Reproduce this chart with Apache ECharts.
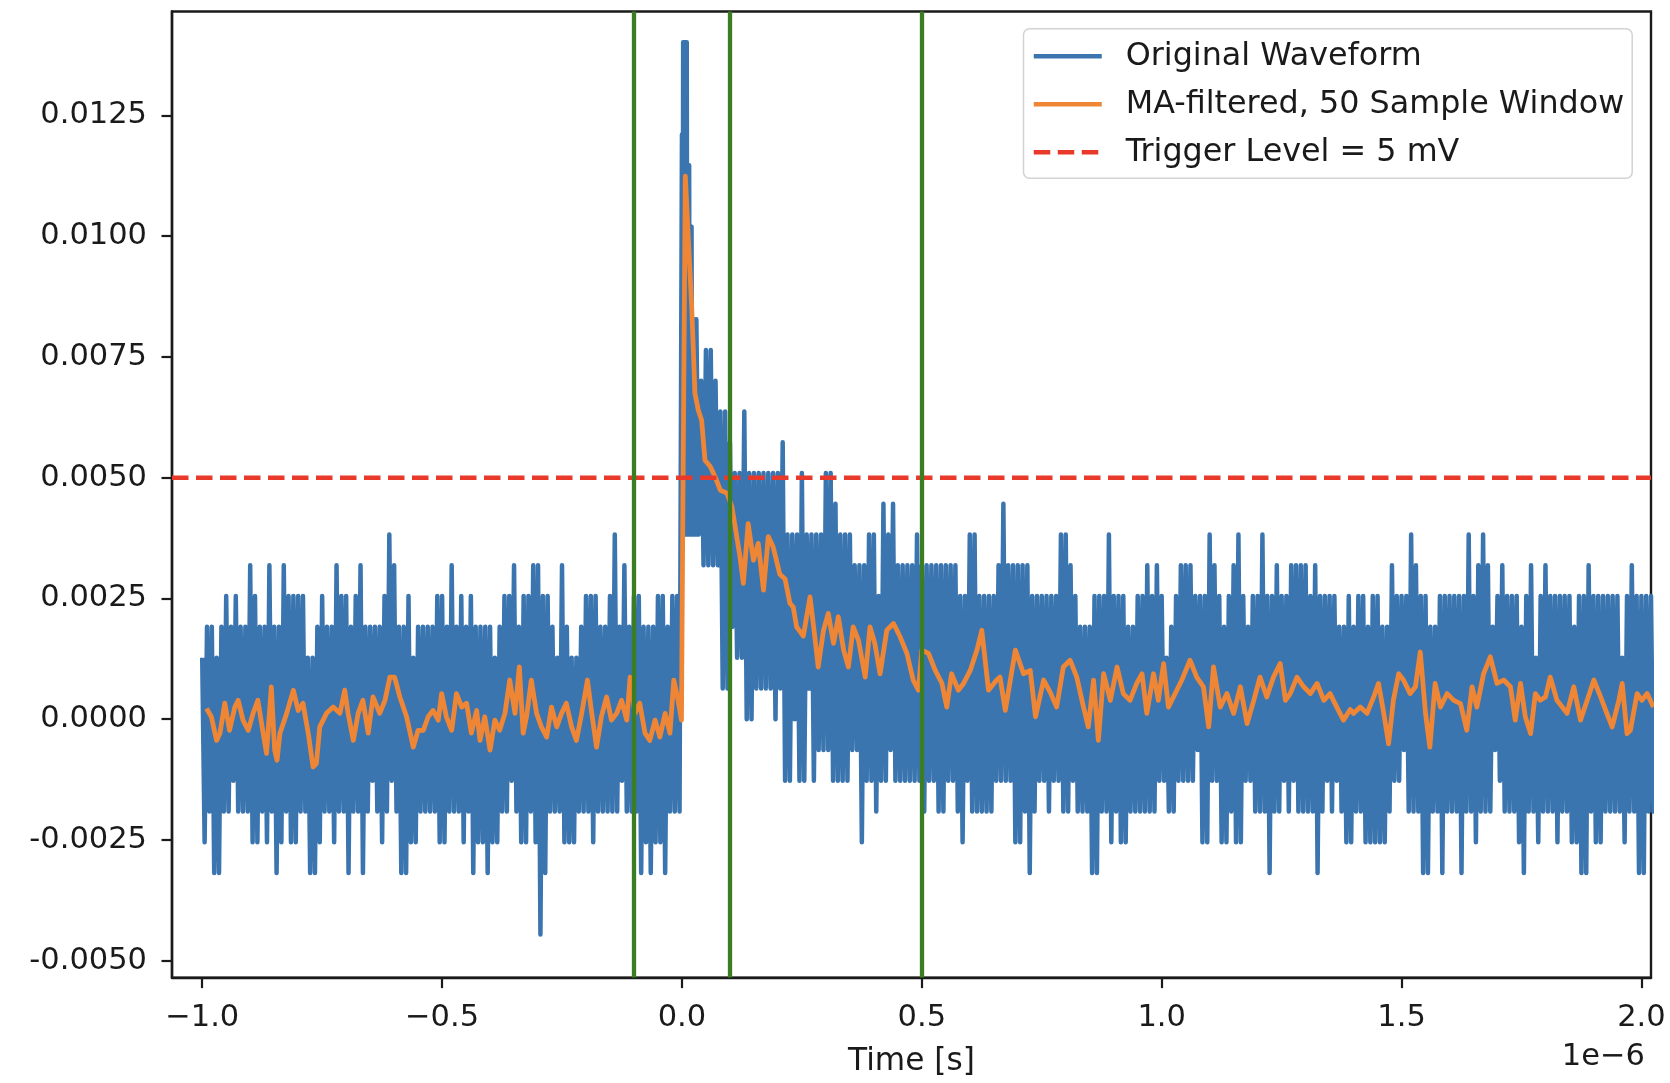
<!DOCTYPE html>
<html><head><meta charset="utf-8">
<script src="https://cdn.jsdelivr.net/npm/echarts@6/dist/echarts.min.js"></script>
<style>html,body{margin:0;padding:0;background:#fff}#c{width:1670px;height:1083px}</style>
</head><body><div id="c"></div>
<script>
// ---------------- data ----------------
// Time values are in microseconds (the axis shows them with a "1e-6" offset).
const LSB = 0.000637;          // scope quantisation step in volts (spacing of the visible levels)
const BIN_START = -1.0;        // first envelope bin (µs)
const BIN_WIDTH = 0.01;        // envelope bin width (µs)
// Upper / lower edge of the raw waveform per bin, in ADC counts (null = see peak arrays)
const bandTop = [
  2,3,3,2,3,4,3,4,3,3,  5,4,3,3,5,3,3,5,4,4,  4,4,2,2,3,4,3,3,5,4,  4,3,4,5,3,3,3,3,4,6,
  5,3,3,4,2,3,3,3,3,4,  4,3,5,3,4,3,4,3,3,3,  3,2,3,4,4,5,3,4,4,5,  5,4,4,3,2,5,3,2,2,3,
  4,4,4,3,3,4,6,3,5,3,  4,4,3,3,3,4,4,3,4,4,
  null,null,null,13,11,12,12,11,10,10,  9,8,8,10,8,8,8,8,8,8,  8,9,6,6,6,8,6,6,6,6,
  8,8,7,6,6,6,5,5,5,6,  6,4,7,6,7,5,5,5,5,6,  5,5,5,5,5,5,5,5,4,4,  6,6,4,4,4,4,5,7,5,5,
  5,5,5,4,4,4,4,4,4,6,  6,5,4,3,3,3,4,4,4,6,  4,4,4,3,3,4,4,5,4,5,  4,2,3,4,5,5,5,4,4,4,
  6,5,4,3,4,5,6,4,3,4,  4,6,4,4,5,4,4,5,5,5,  5,4,5,4,4,4,4,3,3,4,  3,4,4,3,4,4,3,3,5,4,
  4,4,6,5,4,4,3,3,4,4,  4,4,4,4,6,4,5,6,5,3,  4,5,4,4,4,3,4,5,2,4,  5,4,4,4,4,4,3,4,4,5,
  4,4,4,4,4,4,2,4,5,4,  4,4,4
];
const bandBottom = [
  -4,-3,-5,-5,-3,-3,-2,-3,-3,-3,  -4,-4,-3,-4,-3,-5,-4,-3,-4,-4,  -3,-3,-5,-5,-4,-3,-3,-4,-3,-3,
  -5,-3,-3,-5,-3,-2,-3,-4,-3,-2,  -3,-5,-5,-4,-4,-3,-3,-3,-3,-4,  -4,-3,-3,-3,-4,-3,-5,-4,-4,-5,
  -4,-4,-3,-3,-2,-3,-4,-4,-3,-4,  -7,-5,-3,-3,-3,-4,-4,-4,-3,-3,  -3,-4,-3,-3,-3,-3,-3,-2,-3,-3,
  -3,-5,-4,-5,-4,-4,-5,-3,-3,-3,
  null,null,null,6,5,5,5,5,1,1,  3,2,2,0,0,1,1,1,1,0,  1,-2,-2,0,-2,-2,1,-2,-1,-1,
  -1,-2,-2,-2,-2,-1,-1,-4,-2,-2,  -3,-2,-2,-1,-2,-2,-2,-2,-2,-2,  -3,-2,-2,-3,-3,-2,-2,-3,-4,-2,
  -3,-3,-3,-3,-3,-2,-2,-2,-2,-4,  -4,-3,-5,-3,-2,-2,-3,-2,-2,-3,  -3,-2,-3,-3,-3,-5,-5,-3,-3,-4,
  -3,-4,-4,-3,-3,-3,-3,-3,-3,-2,  -2,-3,-3,-2,-2,-2,-2,-1,-4,-4,  -2,-2,-4,-4,-3,-4,-4,-2,-2,-3,
  -3,-3,-5,-3,-3,-2,-3,-2,-3,-3,  -3,-3,-5,-3,-2,-3,-2,-3,-4,-4,  -3,-3,-4,-4,-4,-4,-4,-3,-2,-2,
  -1,-3,-3,-3,-5,-5,-3,-3,-5,-3,  -3,-3,-5,-3,-3,-4,-3,-3,-3,-1,  -2,-3,-3,-3,-4,-5,-3,-3,-4,-3,
  -3,-3,-4,-3,-3,-4,-4,-5,-5,-3,  -4,-4,-3,-3,-3,-3,-4,-3,-3,-5,  -5,-3,-3
];
// Pulse onset, finer bins (µs, counts)
const PEAK_START = 0.0;
const PEAK_STEP = 0.0025;
const peakTop    = [19,22,22,22,22,18,18,16,16,12,13,13];
const peakBottom = [ 6, 6, 6, 6, 6, 6, 6, 6, 6, 6, 6, 6];

// Moving-average trace: time (µs) and value (mV)
const maTime = [
 -0.991,-0.981,-0.970,-0.963,-0.953,-0.943,-0.932,-0.925,-0.915,-0.904,-0.894,-0.884,-0.873,-0.866,-0.856,-0.849,-0.844,-0.838,-0.824,-0.810,
 -0.800,-0.790,-0.779,-0.769,-0.762,-0.755,-0.741,-0.727,-0.713,-0.703,-0.696,-0.685,-0.675,-0.665,-0.654,-0.644,-0.630,-0.619,-0.609,-0.599,
 -0.588,-0.574,-0.560,-0.550,-0.539,-0.529,-0.519,-0.508,-0.501,-0.491,-0.480,-0.470,-0.459,-0.449,-0.439,-0.428,
 -0.421,-0.411,-0.400,-0.390,-0.380,-0.369,-0.359,-0.348,-0.339,-0.331,-0.324,-0.314,-0.303,-0.293,-0.282,-0.272,-0.261,-0.251,-0.241,-0.230,
 -0.220,-0.209,-0.197,-0.188,-0.178,-0.168,-0.157,-0.147,-0.136,-0.126,-0.115,-0.108,-0.098,-0.088,-0.077,-0.067,-0.056,-0.046,-0.035,-0.025,
 -0.017,-0.008,-0.001,
 0.002,0.007,0.013,0.020,0.024,0.027,0.034,0.041,0.048,0.059,0.069,0.080,0.094,0.104,0.111,0.121,0.128,0.138,0.149,0.159,
 0.170,0.180,0.190,0.204,0.215,0.225,0.232,0.239,0.253,0.267,0.277,0.284,0.295,0.305,0.316,0.326,0.337,0.347,0.357,0.368,
 0.382,0.392,0.402,0.413,0.427,0.441,0.455,0.469,0.482,0.493,0.500,0.514,0.528,0.542,0.552,0.562,0.576,0.587,0.601,0.615,
 0.625,0.639,0.656,0.663,0.674,0.695,0.712,0.726,0.737,0.754,0.768,
 0.781,0.795,0.809,0.823,0.837,0.847,0.858,0.868,0.879,0.893,0.907,0.920,0.934,0.948,0.959,0.969,0.983,0.993,1.004,1.014,
 1.028,1.042,1.059,1.073,1.087,1.098,1.108,1.122,1.136,1.150,1.164,1.178,1.192,1.205,1.219,1.233,1.247,1.258,1.268,1.282,
 1.296,1.310,1.324,1.338,1.351,1.365,1.379,
 1.393,1.400,1.414,1.428,1.442,1.452,1.463,1.473,1.483,1.494,1.504,1.518,1.529,1.539,1.550,1.559,1.570,1.581,1.595,1.609,
 1.623,1.636,1.647,1.657,1.671,1.685,1.699,1.713,1.727,1.737,1.748,1.758,1.769,1.779,1.789,1.800,1.810,1.824,1.835,1.845,
 1.859,1.873,1.887,1.901,1.915,1.928,1.939,1.953,1.960,1.970,1.977,1.991,2.001,2.012,2.025
];
const maMillivolts = [
 0.22,0.05,-0.44,-0.29,0.33,-0.23,0.25,0.39,-0.02,-0.23,0.12,0.39,-0.29,-0.71,0.67,-0.64,-0.85,-0.29,0.12,0.60,
 0.18,0.33,-0.29,-0.99,-0.92,-0.16,0.12,0.25,0.12,0.60,0.12,-0.44,0.12,0.39,-0.29,0.46,0.12,0.39,0.87,0.87,
 0.46,0.05,-0.58,-0.23,-0.23,0.05,0.18,-0.02,0.53,0.05,-0.23,0.53,0.25,0.33,-0.29,0.18,
 -0.44,0.05,-0.64,-0.02,-0.23,0.12,0.81,0.12,1.08,-0.29,0.05,0.81,0.12,-0.16,-0.37,0.25,-0.16,0.12,0.33,-0.16,
 -0.44,0.12,0.81,0.12,-0.58,0.05,0.46,-0.02,0.12,0.39,-0.02,0.87,0.12,0.33,-0.29,-0.44,-0.02,-0.37,0.12,-0.29,
 0.81,0.39,-0.02,
 4.50,11.24,10.00,8.61,7.58,6.75,6.40,6.19,5.36,5.23,5.02,4.74,4.68,4.40,3.98,3.36,2.81,4.05,3.29,3.64,
 2.67,3.78,3.57,3.00,2.90,2.40,2.32,1.91,1.72,2.53,1.70,1.08,1.84,2.19,1.57,2.12,1.43,1.08,1.91,1.63,
 0.87,1.91,1.57,0.94,1.84,1.98,1.70,1.36,0.81,0.60,1.43,1.36,1.01,0.74,0.25,0.94,0.60,0.74,1.01,1.43,
 1.84,0.60,0.81,0.87,0.18,1.43,0.94,1.01,0.05,0.81,0.55,
 0.25,1.08,1.22,0.87,0.25,-0.16,0.81,-0.44,0.94,0.39,1.08,0.53,0.39,0.74,0.94,0.12,0.94,0.39,1.15,0.25,
 0.53,0.81,1.22,0.87,0.67,-0.16,1.08,0.25,0.53,0.12,0.67,-0.09,0.39,0.87,0.46,0.87,1.15,0.39,0.53,0.87,
 0.67,0.53,0.74,0.39,0.53,0.25,-0.02,
 0.20,0.12,0.25,0.12,0.46,0.74,0.12,-0.51,0.39,0.94,0.81,0.53,0.67,1.39,0.12,-0.58,0.74,0.25,0.53,0.39,
 0.32,-0.23,0.67,0.25,0.94,1.29,0.74,0.81,0.67,-0.02,0.74,0.05,-0.30,0.53,0.39,0.46,0.87,0.39,0.25,0.12,
 0.67,-0.02,0.39,0.81,0.46,0.12,-0.16,0.39,0.74,-0.30,-0.23,0.53,0.39,0.53,0.25
];

const TRIGGER_LEVEL = 0.005;               // V
const cursorTimes = [-0.1, 0.1, 0.5];      // µs, green vertical markers
const xTicks = [-1.0, -0.5, 0.0, 0.5, 1.0, 1.5, 2.0];
const yTicks = [-0.005, -0.0025, 0, 0.0025, 0.005, 0.0075, 0.01, 0.0125];
const seriesNames = ['Original Waveform', 'MA-filtered, 50 Sample Window', 'Trigger Level = 5 mV'];
const X_MIN = -1.063, X_MAX = 2.02;
const Y_MIN = -0.00535, Y_MAX = 0.01465;

// ---------------- build series ----------------
// Each envelope bin is drawn as: upper edge, held briefly, then lower edge, held briefly,
// so the dense raw trace shows as a filled band with flat quantisation levels.
function pushBin(pts, t0, w, top, bottom) {
  pts.push([t0, top * LSB], [t0 + w * 0.2, top * LSB],
           [t0 + w * 0.5, bottom * LSB], [t0 + w * 0.7, bottom * LSB]);
}
function bluePoints() {
  const pts = [];
  bandTop.forEach((top, i) => {
    if (top === null) return;
    pushBin(pts, BIN_START + i * BIN_WIDTH, BIN_WIDTH, top, bandBottom[i]);
  });
  peakTop.forEach((top, j) => {
    pushBin(pts, PEAK_START + j * PEAK_STEP, PEAK_STEP, top, peakBottom[j]);
  });
  return pts.sort((a, b) => a[0] - b[0]);
}
const maPoints = maTime.map((t, i) => [t, maMillivolts[i] / 1000]);

const FONT = 'DejaVu Sans';
const TEXT = '#1a1a1a';
const BLUE = '#3b75af', ORANGE = '#ef8636', RED = '#e8392b', GREEN = '#3b7d23';
const FS = 30.5;

const chart = echarts.init(document.getElementById('c'), null, {renderer: 'canvas'});
chart.setOption({
  animation: false,
  textStyle: {fontFamily: FONT},
  grid: {left: 172, right: 19, top: 11.5, bottom: 105.4, show: true,
         borderColor: TEXT, borderWidth: 2.4, backgroundColor: 'transparent', outerBoundsMode: 'none'},
  legend: {
    data: seriesNames, orient: 'vertical', left: 1023.5, top: 28.8,
    padding: [10.5, 8, 9, 8], itemWidth: 68, itemHeight: 14, itemGap: 14,
    backgroundColor: '#fff', borderColor: '#d3d3d3', borderWidth: 1.5, borderRadius: 6,
    selectedMode: false,
    itemStyle: {opacity: 0},
    lineStyle: {width: 4.5},
    textStyle: {fontSize: 31.8, fontFamily: FONT, color: TEXT, lineHeight: 34, padding: [0, 0, 0, 19]}
  },
  xAxis: {
    type: 'value', min: X_MIN, max: X_MAX,
    name: 'Time [s]', nameLocation: 'middle', nameGap: 69,
    nameTextStyle: {fontSize: 31.2, color: TEXT, fontFamily: FONT},
    axisLine: {show: true, onZero: false, lineStyle: {color: TEXT, width: 2.4}},
    axisTick: {show: true, customValues: xTicks, length: 10.5, lineStyle: {color: TEXT, width: 2.2}},
    axisLabel: {customValues: xTicks, fontSize: FS, color: TEXT, fontFamily: FONT, margin: 25,
                formatter: v => v.toFixed(1).replace('-', '\u2212')},
    splitLine: {show: false}
  },
  yAxis: {
    type: 'value', min: Y_MIN, max: Y_MAX,
    axisLine: {show: true, onZero: false, lineStyle: {color: TEXT, width: 2.4}},
    axisTick: {show: true, customValues: yTicks, length: 10.5, lineStyle: {color: TEXT, width: 2.2}},
    axisLabel: {customValues: yTicks, fontSize: FS, color: TEXT, fontFamily: FONT, margin: 25,
                formatter: v => (Math.abs(v) < 1e-12 ? 0 : v).toFixed(4)},
    splitLine: {show: false}
  },
  graphic: [{
    type: 'text', x: 1645, y: 1057, silent: true,
    style: {text: '1e\u22126', fontSize: FS, fontFamily: FONT, fill: TEXT, align: 'right', verticalAlign: 'middle'}
  }],
  series: [
    {name: seriesNames[0], type: 'line', data: bluePoints(), symbol: 'none', showSymbol: false,
     lineStyle: {color: BLUE, width: 4.5, join: 'round'}, itemStyle: {color: BLUE}, z: 2, silent: true},
    {name: seriesNames[1], type: 'line', data: maPoints, symbol: 'none', showSymbol: false,
     lineStyle: {color: ORANGE, width: 4.8, join: 'round'}, itemStyle: {color: ORANGE}, z: 3, silent: true},
    {name: seriesNames[2], type: 'line', data: [[X_MIN, TRIGGER_LEVEL], [X_MAX, TRIGGER_LEVEL]],
     symbol: 'none', showSymbol: false,
     lineStyle: {color: RED, width: 4.5, type: [16.5, 7.5]}, itemStyle: {color: RED}, z: 4, silent: true},
    {name: 'cursors', type: 'line', data: [], z: 5, silent: true,
     markLine: {symbol: ['none', 'none'], silent: true, animation: false, label: {show: false},
                lineStyle: {color: GREEN, width: 4.3, type: 'solid'},
                data: cursorTimes.map(t => ({xAxis: t}))}}
  ]
});
</script></body></html>
